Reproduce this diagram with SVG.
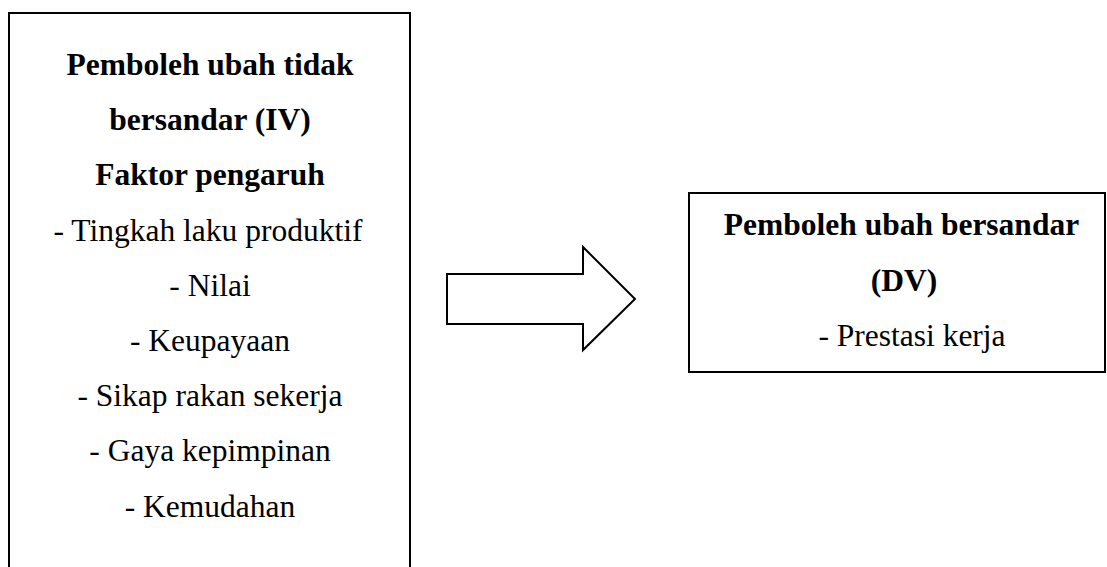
<svg xmlns="http://www.w3.org/2000/svg" width="1107" height="567" viewBox="0 0 1107 567">
<style>
.box{fill:#fff;stroke:#000;stroke-width:2}
.t{font-family:"Liberation Serif","Times New Roman",serif;font-size:31.5px;fill:#000;text-anchor:middle}
.b{font-weight:bold}
</style>
<rect width="1107" height="567" fill="#fff"/>
<g id="iv">
<rect class="box" x="9" y="13" width="401" height="600"/>
<text class="t b" x="210" y="75">Pemboleh ubah tidak</text>
<text class="t b" x="210" y="130.2">bersandar (IV)</text>
<text class="t b" x="210" y="185.4">Faktor pengaruh</text>
<text class="t" x="208" y="240.6">- Tingkah laku produktif</text>
<text class="t" x="210" y="295.8">- Nilai</text>
<text class="t" x="210" y="351">- Keupayaan</text>
<text class="t" x="210" y="406.2">- Sikap rakan sekerja</text>
<text class="t" x="210" y="461.4">- Gaya kepimpinan</text>
<text class="t" x="210" y="516.6">- Kemudahan</text>
</g>
<g id="connectors">
<polygon class="box" points="447,274 583,274 583,247 635,299 583,350 583,324 447,324"/>
</g>
<g id="dv">
<rect class="box" x="689" y="193" width="416" height="179"/>
<text class="t b" x="901.5" y="235">Pemboleh ubah bersandar</text>
<text class="t b" x="904" y="290.5">(DV)</text>
<text class="t" x="912" y="346">- Prestasi kerja</text>
</g>
</svg>
